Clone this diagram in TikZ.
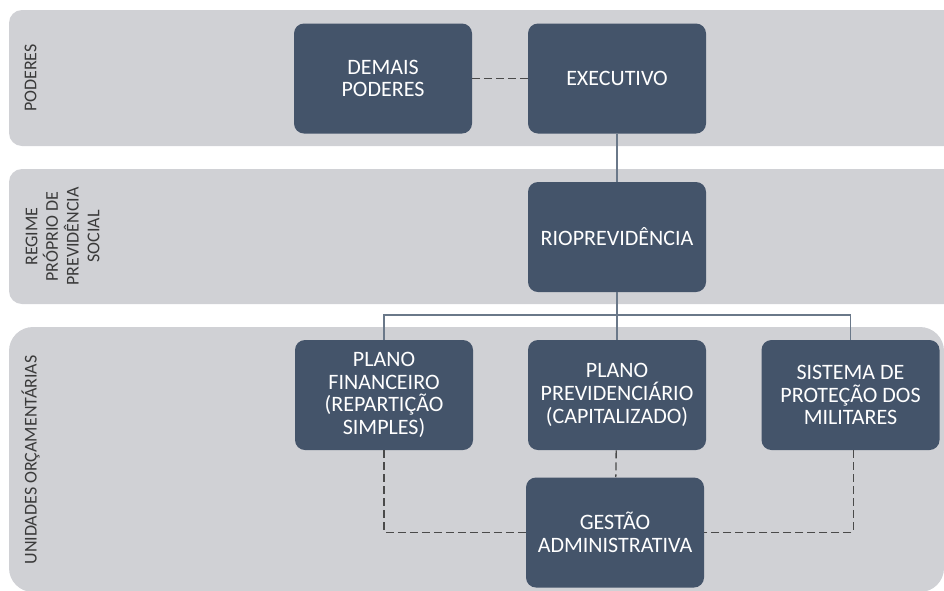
\documentclass[tikz,border=0pt]{standalone}
\usepackage{fontspec}
\setmainfont{Carlito}
\definecolor{bandgray}{HTML}{D0D1D5}
\definecolor{boxblue}{HTML}{44546A}
\definecolor{sidetext}{HTML}{3A3A3A}
\definecolor{solidc}{HTML}{6A7889}
\definecolor{dashc}{HTML}{4A4A4A}
\tikzset{
  band/.style={fill=bandgray},
  orgbox/.style={fill=boxblue, rounded corners=7.5pt, minimum width=133.5pt, minimum height=82.5pt,
    text=white, align=center, inner sep=2pt, font=\fontsize{16.5}{17}\selectfont},
  sidelabel/.style={rotate=90, text=sidetext, align=center, inner sep=0pt, font=\fontsize{13.5}{15.5}\selectfont},
  solidconn/.style={draw=solidc, line width=1pt},
  dashconn/.style={draw=dashc, line width=1pt, dash pattern=on 6pt off 3pt},
}
\begin{document}
\begin{tikzpicture}[x=0.75pt, y=-0.75pt]
\useasboundingbox (0,0) rectangle (944,590);
\clip (0,0) rectangle (944,590);
% bands
\fill[band, rounded corners=9.75pt] (9,10) rectangle (990,146);
\fill[band, rounded corners=9.75pt] (9,169) rectangle (990,304);
\fill[band, rounded corners=18pt] (9,327) rectangle (944,592);
% side labels
\node[sidelabel] (lpod) at (30.5,78) {PODERES};
\node[sidelabel] (lreg) at (62.5,236.5) {REGIME\\PRÓPRIO DE\\PREVIDÊNCIA\\SOCIAL};
\node[sidelabel] (luni) at (30.5,460) {UNIDADES ORÇAMENTÁRIAS};
% boxes
\node[orgbox] (dem) at (383,78.5) {DEMAIS\\PODERES};
\node[orgbox] (exe) at (617,78.5) {EXECUTIVO};
\node[orgbox] (rio) at (617,237) {RIOPREVIDÊNCIA};
\node[orgbox] (fin) at (384,395) {PLANO\\FINANCEIRO\\(REPARTIÇÃO\\SIMPLES)};
\node[orgbox] (prev) at (617,395) {PLANO\\PREVIDENCIÁRIO\\(CAPITALIZADO)};
\node[orgbox] (sis) at (850.5,395) {SISTEMA DE\\PROTEÇÃO DOS\\MILITARES};
\node[orgbox] (ges) at (615,532.5) {GESTÃO\\ADMINISTRATIVA};
\coordinate (bus) at (617,315);
% connectors
\draw[dashconn] (dem) -- (exe);
\draw[solidconn] (exe) -- (rio);
\draw[solidconn] (rio) -- (prev);
\draw[solidconn] (fin.north) |- (bus) -| (sis.north);
\draw[dashconn] (prev) -- (ges);
\draw[dashconn] (fin.south) |- (ges.west);
\draw[dashconn] ([xshift=2pt]sis.south) |- (ges.east);
\end{tikzpicture}
\end{document}
